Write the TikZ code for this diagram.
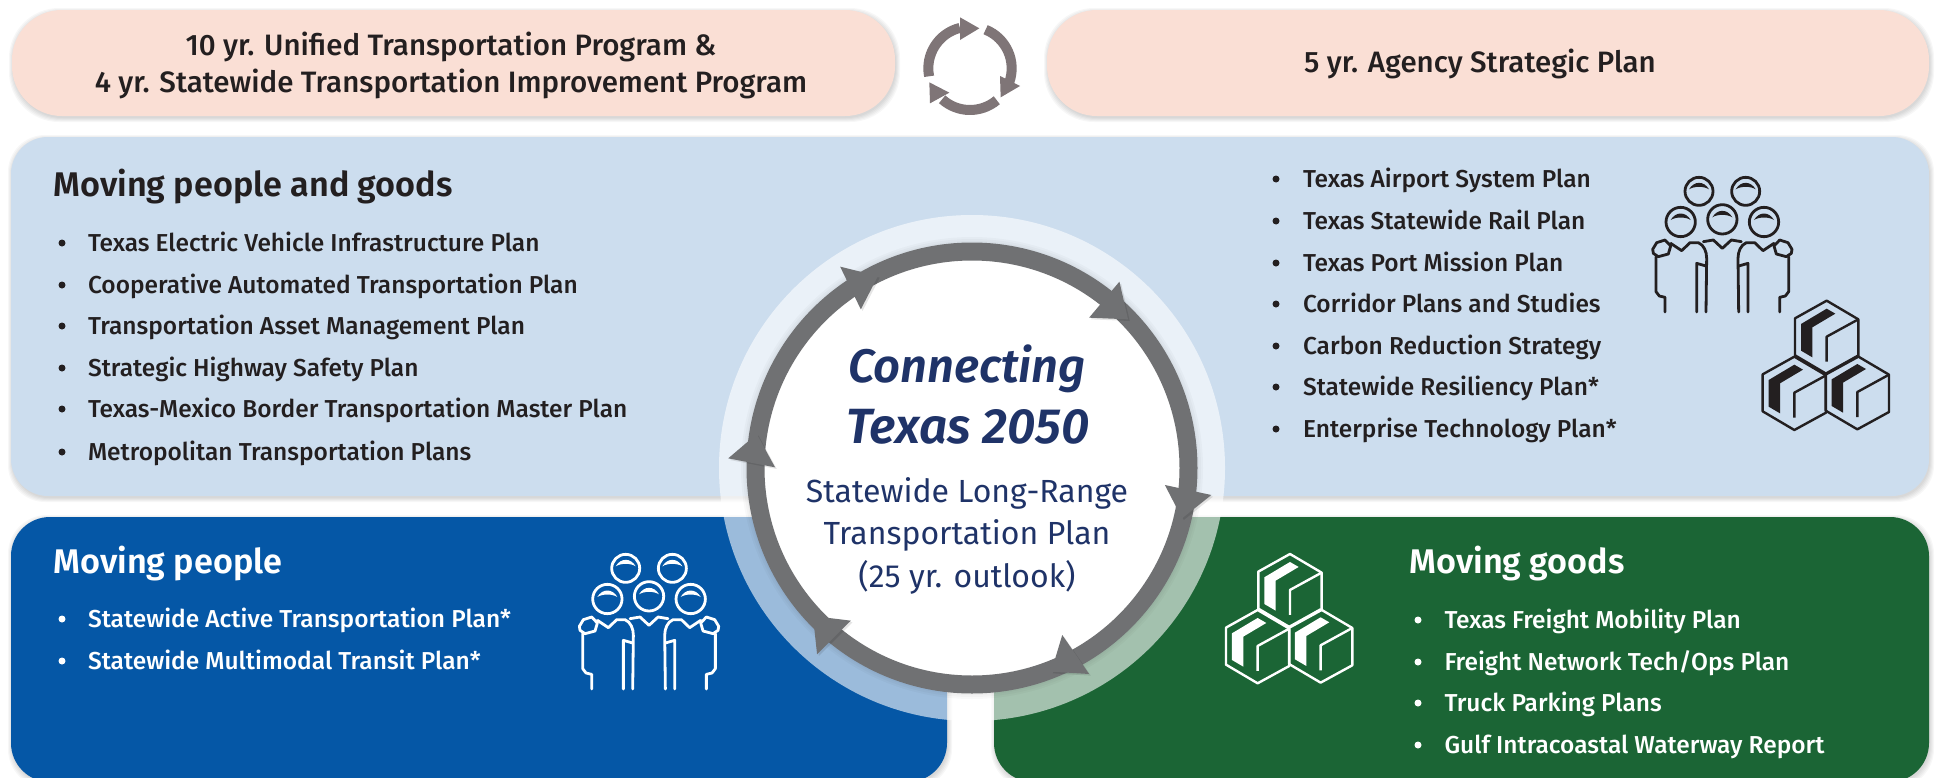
\documentclass[tikz,border=0pt]{standalone}
\usepackage{fontspec}
\setmainfont{Fira Sans}
\newfontfamily\fmed{Fira Sans Medium}
\newfontfamily\fsemi{Fira Sans SemiBold}
\newfontfamily\fsemit{Fira Sans SemiBold Italic}
\newfontfamily\freg{Fira Sans}
\definecolor{pillc}{HTML}{FADFD5}
\definecolor{lightb}{HTML}{CCDDEE}
\definecolor{blueb}{HTML}{0557A6}
\definecolor{greenb}{HTML}{1B6535}
\definecolor{ringc}{HTML}{707173}
\definecolor{navyc}{HTML}{1F3368}
\definecolor{recyc}{HTML}{7F7577}
\definecolor{inkc}{HTML}{231F20}
\newcommand{\softbox}[6]{% x1 y1 x2 y2 r color
  \foreach \d in {0,1,2,3,4}{\fill[black,opacity=.03,rounded corners=#5pt]
    ({#1-\d+1},{#2-\d+2}) rectangle ({#3+\d+1},{#4+\d+2});}
  \fill[#6,rounded corners=#5pt] (#1,#2) rectangle (#3,#4);}
\newcommand{\people}[3]{\begin{scope}[shift={(#1,#2)},xscale=1/3,yscale=1/3,draw=#3,fill=#3,line width=2.8pt,line join=round,line cap=round]
  \foreach \a/\b/\r in {207/94/42,347/94/42,152/186/44,277/178/44,402/186/44}{
    \draw (\a,\b) circle[radius=\r];
    \fill[draw=none] (\a-30,\b-6) .. controls (\a-15,\b-32) and (\a+15,\b-32) .. (\a+30,\b-6)
      .. controls (\a+15,\b-16) and (\a-15,\b-16) .. cycle;}
  \draw (68,268)--(80,248)--(105,240)--(122,258)--(115,282)--(85,290)--(70,280)--cycle;
  \draw (486,268)--(474,248)--(449,240)--(432,258)--(439,282)--(469,290)--(484,280)--cycle;
  \draw (78,290)--(78,395)--(88,408)--(105,412)--(105,456);
  \draw (476,290)--(476,395)--(466,408)--(449,412)--(449,456);
  \draw (122,250)--(155,272)--(180,248)--(205,248) .. controls (222,255) and (230,275) .. (230,295)--(228,456);
  \draw (432,250)--(399,272)--(374,248)--(349,248) .. controls (332,255) and (324,275) .. (324,295)--(326,456);
  \draw (200,456)--(200,310)--(228,318);
  \draw (354,456)--(354,310)--(326,318);
  \draw (220,245)--(250,240)--(277,265)--(304,240)--(334,245);
\end{scope}}
\newcommand{\onecube}[3]{%
  \draw[shift={(#1,#2)},line width=2.4pt,line join=round,draw=#3] (590,422)--(685,478)--(685,590)--(590,642)--(495,586)--(495,475)--cycle;
  \draw[shift={(#1,#2)},line width=2.4pt,line join=round,draw=#3] (685,478)--(590,530)--(590,605);
  \fill[shift={(#1,#2)},#3] (513,492)--(590,446)--(616,461)--(547,502)--(547,592)--(513,572)--cycle;}
\newcommand{\cubes}[3]{\begin{scope}[shift={(#1,#2)},xscale=1/3,yscale=1/3]
  \onecube{0}{0}{#3}\onecube{-97}{168}{#3}\onecube{92}{166}{#3}
\end{scope}}
\newcommand{\ringhead}[3]{%
  \fill[black,opacity=.1] ($(#1)+(5,5)$)--($(#2)+(5,5)$)--($(#3)+(5,5)$)--cycle;
  \fill[ringc] (#1)--(#2)--(#3)--cycle;}
\usetikzlibrary{calc}
\tikzset{
  pilltext/.style={font=\fmed\fontsize{29.5}{37}\selectfont,align=center,text=inkc},
  heading/.style={font=\fsemi\fontsize{34.2}{38}\selectfont,anchor=base west},
  item/.style={font=\fmed\fontsize{24.5}{30}\selectfont,anchor=base west},
  dot/.style={circle,inner sep=0pt,minimum size=7pt},
  ctitlea/.style={font=\fsemit\fontsize{47}{54}\selectfont,text=navyc,anchor=base},
  ctitleb/.style={font=\fsemit\fontsize{49.5}{54}\selectfont,text=navyc,anchor=base},
  csub/.style={font=\freg\fontsize{32}{38}\selectfont,text=navyc,anchor=base},
}
\begin{document}
\begin{tikzpicture}[x=1pt,y=-1pt]
\useasboundingbox (0,0) rectangle (1939,777);
\fill[white] (0,0) rectangle (1939,777);
% pills
\softbox{12}{10}{895}{116}{50}{pillc}
\softbox{1047}{10}{1929}{116}{50}{pillc}
\node[pilltext] (p1) at (451,65) {10 yr. Unified Transportation Program \&\\4 yr. Statewide Transportation Improvement Program};
\node[pilltext] (p2) at (1480,64) {5 yr. Agency Strategic Plan};
% recycle icon
\begin{scope}[shift={(880,0)},xscale=1/3,yscale=1/3,recyc]
  \draw[line width=10pt,recyc] (270,205) ++(169:125) arc[start angle=169,end angle=256,radius=125];
  \fill (240,52)--(298,85)--(240,120)--cycle;
  \draw[line width=10pt,recyc] (270,205) ++(-68:125) arc[start angle=-68,end angle=20,radius=125];
  \fill (360,228)--(420,258)--(362,292)--cycle;
  \draw[line width=10pt,recyc] (270,205) ++(50:125) arc[start angle=50,end angle=132,radius=125];
  \fill (208,278)--(148,247)--(150,310)--cycle;
\end{scope}
% main boxes
\softbox{11}{137}{1929}{496}{37}{lightb}
\softbox{11}{517}{947}{782}{39}{blueb}
\softbox{994}{517}{1929}{782}{39}{greenb}
% text
\node[heading,text=inkc] (h1) at (50,196) {Moving people and goods};
\foreach \t/\y [count=\i] in {{Texas Electric Vehicle Infrastructure Plan}/251,{Cooperative Automated Transportation Plan}/293,{Transportation Asset Management Plan}/334,{Strategic Highway Safety Plan}/376,{Texas-Mexico Border Transportation Master Plan}/417,{Metropolitan Transportation Plans}/460}{
  \node[item,text=inkc] (la\i) at (84.5,\y) {\t};
  \node[dot,fill=inkc] (da\i) at (62,\y-8) {};}
\foreach \t/\y [count=\i] in {{Texas Airport System Plan}/187,{Texas Statewide Rail Plan}/229,{Texas Port Mission Plan}/271,{Corridor Plans and Studies}/312,{Carbon Reduction Strategy}/354,{Statewide Resiliency Plan*}/395,{Enterprise Technology Plan*}/437}{
  \node[item,text=inkc] (lb\i) at (1299.5,\y) {\t};
  \node[dot,fill=inkc] (db\i) at (1276,\y-8) {};}
\node[heading,text=white] (h2) at (50,573) {Moving people};
\foreach \t/\y [count=\i] in {{Statewide Active Transportation Plan*}/627,{Statewide Multimodal Transit Plan*}/669}{
  \node[item,text=white] (lc\i) at (84.5,\y) {\t};
  \node[dot,fill=white] (dc\i) at (62,\y-8) {};}
\node[heading,text=white] (h3) at (1406,573) {Moving goods};
\foreach \t/\y [count=\i] in {{Texas Freight Mobility Plan}/628,{Freight Network Tech/Ops Plan}/670,{Truck Parking Plans}/711,{Gulf Intracoastal Waterway Report}/753}{
  \node[item,text=white] (ld\i) at (1441,\y) {\t};
  \node[dot,fill=white] (dd\i) at (1418,\y-8) {};}
% icons
\people{1630}{160}{inkc}
\cubes{1630}{160}{inkc}
\people{556.7}{537}{white}
\cubes{1093.3}{413.3}{white}
% center circle
\fill[white,opacity=.6] (972,468) circle[radius=253];
\foreach \r in {227,229,231}{\fill[black,opacity=.025] (972,468) circle[radius=\r];}
\fill[white] (972,468) circle[radius=208];
\draw[ringc,line width=18pt] (972,468) circle[radius=216.5];
\begin{scope}[shift={(700,220)},xscale=1/2.904,yscale=1/3]
  \ringhead{407,140}{517,168}{467,268}
  \ringhead{1218,185}{1130,293}{1243,298}
  \ringhead{1350,795}{1485,825}{1400,895}
  \ringhead{1052,1245}{1130,1362}{1020,1355}
  \ringhead{328,1188}{438,1202}{340,1303}
  \ringhead{165,642}{82,715}{218,742}
\end{scope}
\node[ctitlea] (c1) at (967,382) {Connecting};
\node[ctitleb] (c2) at (968,443) {Texas 2050};
\node[csub] (c3) at (967,502) {Statewide Long-Range};
\node[csub] (c4) at (967,544) {Transportation Plan};
\node[csub] (c5) at (967,587) {(25 yr. outlook)};
\end{tikzpicture}
\end{document}
